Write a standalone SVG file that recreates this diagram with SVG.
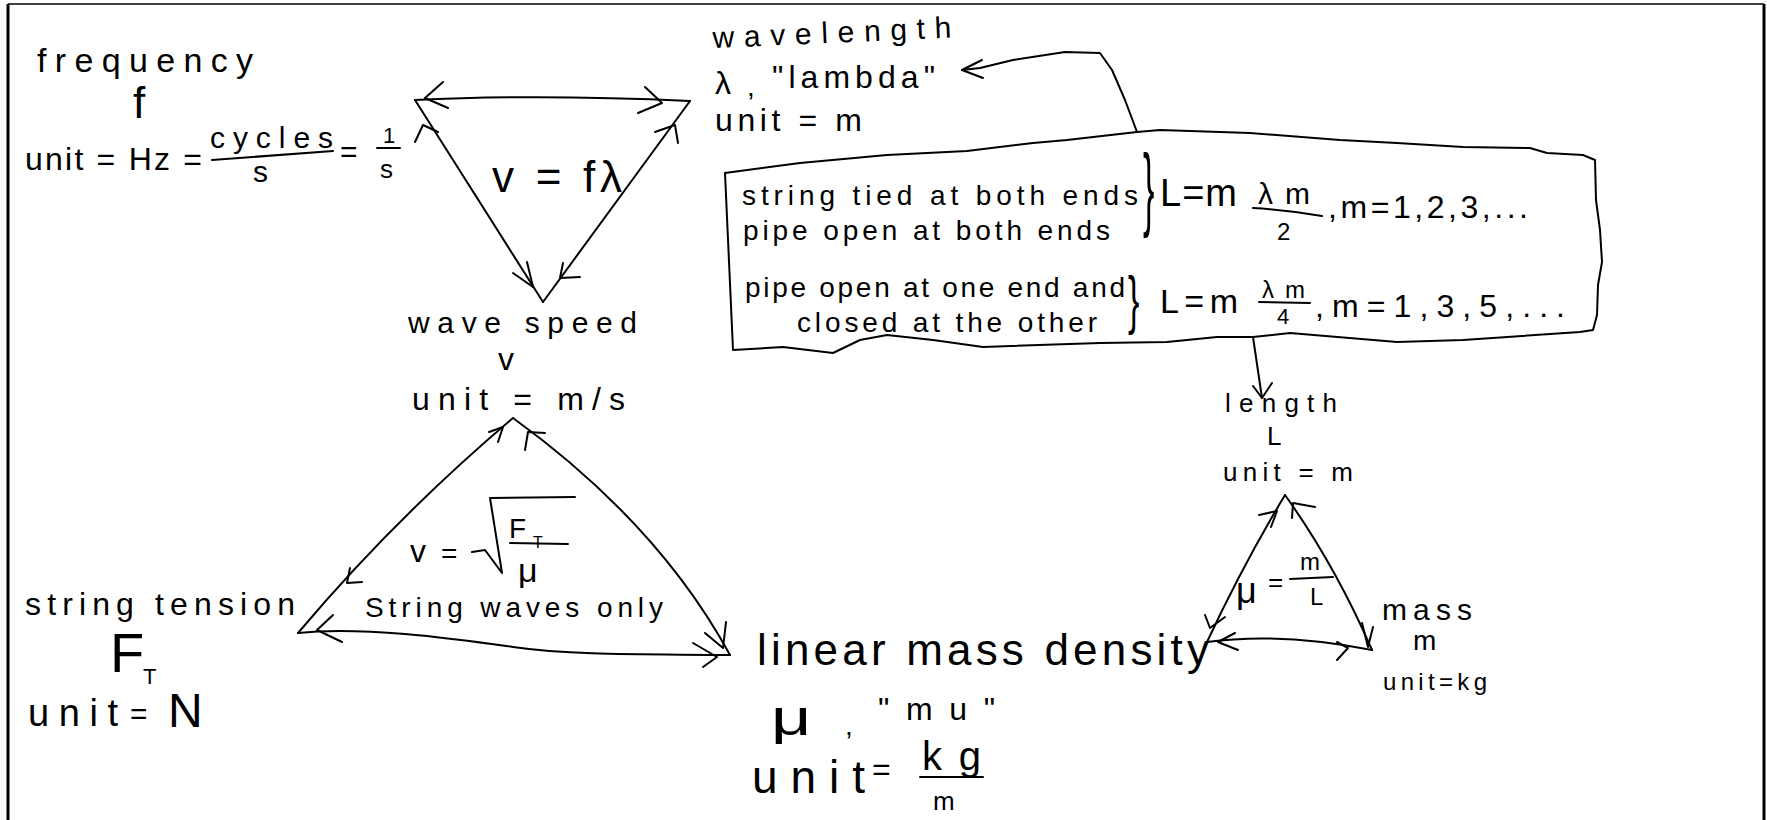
<svg xmlns="http://www.w3.org/2000/svg" width="1767" height="820" viewBox="0 0 1767 820">
<style>
.t{font-family:"Liberation Sans",Arial,sans-serif;fill:#000}
.c{fill:none;stroke:#000;stroke-width:2;stroke-linecap:round;stroke-linejoin:round}
.f{fill:none;stroke:#000;stroke-width:3}
</style>
<rect width="1767" height="820" fill="#fff"/>
<path class="f" d="M8,820 L8,4 M1764,4 L1764,820"/>
<path d="M8,4 L1764,4" stroke="#000" stroke-width="1.5"/>

<g id="connectors">
  <!-- inverted triangle v = f lambda -->
  <path class="c" d="M415,100 Q540,94 690,101"/>
  <path class="c" d="M415,100 L543,302"/>
  <path class="c" d="M690,101 L543,302"/>
  <polyline class="c" points="443,82 425,98 448,108"/>
  <polyline class="c" points="645,87 662,103 638,113"/>
  <polyline class="c" points="415,142 423,125 438,132"/>
  <polyline class="c" points="655,132 675,125 678,143"/>
  <polyline class="c" points="513,273 533,287 527,262"/>
  <polyline class="c" points="563,263 560,278 580,277"/>
  <!-- box to wavelength -->
  <path class="c" d="M1137,132 L1125,100 L1112,70 L1100,53 L1065,52 L1013,60 L980,68 L962,70"/>
  <polyline class="c" points="982,60 962,70 983,78"/>
  <!-- box to length -->
  <path class="c" d="M1253,337 L1262,398"/>
  <polyline class="c" points="1253,386 1262,398 1272,383"/>
  <!-- lower triangle v = sqrt(F/mu) -->
  <path class="c" d="M513,418 Q395,518 298,633"/>
  <path class="c" d="M513,418 Q658,523 730,655"/>
  <path class="c" d="M298,633 C360,626 450,638 513,647 S650,654 730,655"/>
  <polyline class="c" points="489,432 503,427 498,442"/>
  <polyline class="c" points="525,450 528,432 545,433"/>
  <polyline class="c" points="350,568 347,583 362,582"/>
  <polyline class="c" points="333,615 317,630 342,642"/>
  <polyline class="c" points="705,633 723,648 726,622"/>
  <polyline class="c" points="693,643 717,657 703,667"/>
  <!-- small triangle mu = m/L -->
  <path class="c" d="M1285,495 Q1243,565 1207,642"/>
  <path class="c" d="M1285,495 Q1335,565 1372,650"/>
  <path class="c" d="M1207,642 Q1280,632 1372,650"/>
  <polyline class="c" points="1259,515 1277,511 1271,527"/>
  <polyline class="c" points="1292,518 1293,503 1315,507"/>
  <polyline class="c" points="1205,615 1210,628 1225,617"/>
  <polyline class="c" points="1235,633 1218,642 1238,650"/>
  <polyline class="c" points="1337,642 1348,648 1337,660"/>
  <polyline class="c" points="1362,623 1368,647 1373,627"/>
</g>

<g id="frequency">
  <text class="t" x="37" y="72" font-size="34" textLength="216" lengthAdjust="spacing">frequency</text>
  <text class="t" x="133" y="118" font-size="44">f</text>
  <text class="t" x="25" y="170" font-size="32" textLength="177" lengthAdjust="spacing">unit = Hz =</text>
  <text class="t" x="210" y="148" font-size="30" textLength="123" lengthAdjust="spacing">cycles</text>
  <path class="c" d="M212,160 L333,151"/>
  <text class="t" x="253" y="182" font-size="30">s</text>
  <text class="t" x="340" y="162" font-size="30">=</text>
  <text class="t" x="383" y="143" font-size="22">1</text>
  <path class="c" d="M377,148 L400,148"/>
  <text class="t" x="380" y="178" font-size="26">s</text>
</g>

<g id="formula-v-f-lambda">
  <text class="t" x="492" y="192" font-size="44" textLength="130" lengthAdjust="spacing">v = fλ</text>
</g>

<g id="wavelength">
  <text class="t" x="713" y="48" font-size="30" textLength="239" lengthAdjust="spacing" transform="rotate(-2.5 713 48)">wavelength</text>
  <text class="t" x="715" y="94" font-size="32">λ</text>
  <text class="t" x="747" y="96" font-size="28">,</text>
  <text class="t" x="772" y="88" font-size="32" textLength="163" lengthAdjust="spacing">"lambda"</text>
  <text class="t" x="715" y="131" font-size="32" textLength="147" lengthAdjust="spacing">unit = m</text>
</g>

<g id="wave-speed">
  <text class="t" x="408" y="333" font-size="30" textLength="229" lengthAdjust="spacing">wave speed</text>
  <text class="t" x="498" y="370" font-size="32">v</text>
  <text class="t" x="412" y="410" font-size="32" textLength="213" lengthAdjust="spacing">unit = m/s</text>
</g>

<g id="standing-waves">
  <path class="c" d="M725,173 L800,163 L887,155 L967,151 L1033,143 L1067,140 L1137,132 L1160,130 L1250,133 L1340,140 L1397,143 L1463,147 L1530,148 L1547,153 L1583,155 L1595,160 L1596,200 L1600,230 L1602,262 L1598,285 L1597,315 L1593,330 L1580,332 L1463,340 L1397,342 L1290,333 L1253,337 L1217,337 L1167,342 L1100,343 L983,347 L933,340 L887,335 L860,340 L833,353 L783,347 L733,350 Z"/>
  <text class="t" x="742" y="205" font-size="28" textLength="396" lengthAdjust="spacing">string tied at both ends</text>
  <text class="t" x="743" y="240" font-size="28" textLength="367" lengthAdjust="spacing">pipe open at both ends</text>
  <text class="t" x="745" y="297" font-size="28" textLength="380" lengthAdjust="spacing">pipe open at one end and</text>
  <text class="t" x="797" y="332" font-size="28" textLength="300" lengthAdjust="spacing">closed at the other</text>
  <text class="t" font-size="34" transform="translate(1143,219) scale(1,2.7)">}</text>
  <text class="t" font-size="34" transform="translate(1128,322) scale(1,1.9)">}</text>
  <text class="t" x="1160" y="206" font-size="38" textLength="77" lengthAdjust="spacing">L=m</text>
  <text class="t" x="1258" y="204" font-size="30" textLength="52" lengthAdjust="spacing">λm</text>
  <path class="c" d="M1253,208 Q1288,210 1322,216"/>
  <text class="t" x="1277" y="240" font-size="24">2</text>
  <text class="t" x="1328" y="218" font-size="32" textLength="200" lengthAdjust="spacing">,m=1,2,3,...</text>
  <text class="t" x="1160" y="313" font-size="34" textLength="78" lengthAdjust="spacing">L=m</text>
  <text class="t" x="1262" y="298" font-size="24" textLength="43" lengthAdjust="spacing">λm</text>
  <path class="c" d="M1259,302 L1310,303"/>
  <text class="t" x="1277" y="324" font-size="22">4</text>
  <text class="t" x="1315" y="317" font-size="32" textLength="250" lengthAdjust="spacing">,m=1,3,5,...</text>
</g>

<g id="string-tension">
  <text class="t" x="25" y="615" font-size="32" textLength="270" lengthAdjust="spacing">string tension</text>
  <text class="t" x="110" y="672" font-size="56">F</text>
  <text class="t" x="143" y="684" font-size="22">T</text>
  <text class="t" x="28" y="726" font-size="38" textLength="90" lengthAdjust="spacing">unit</text>
  <text class="t" x="130" y="724" font-size="30">=</text>
  <text class="t" x="168" y="727" font-size="48">N</text>
</g>

<g id="formula-v-sqrt">
  <text class="t" x="410" y="562" font-size="32">v</text>
  <text class="t" x="441" y="563" font-size="28">=</text>
  <path class="c" d="M472,552 L485,550 L502,573 L490,498 L575,497"/>
  <text class="t" x="509" y="538" font-size="28">F</text>
  <text class="t" x="533" y="548" font-size="16">T</text>
  <path class="c" d="M510,543 L568,544"/>
  <text class="t" x="518" y="582" font-size="34">μ</text>
  <text class="t" x="365" y="617" font-size="28" textLength="298" lengthAdjust="spacing">String waves only</text>
</g>

<g id="linear-mass-density">
  <text class="t" x="757" y="665" font-size="44" textLength="452" lengthAdjust="spacing">linear mass density</text>
  <text class="t" font-size="50" transform="translate(771,735) scale(1.4,1)">μ</text>
  <text class="t" x="845" y="735" font-size="28">,</text>
  <text class="t" x="878" y="720" font-size="32" textLength="117" lengthAdjust="spacing">"mu"</text>
  <text class="t" x="752" y="793" font-size="46" textLength="113" lengthAdjust="spacing">unit</text>
  <text class="t" x="872" y="780" font-size="32">=</text>
  <text class="t" x="922" y="770" font-size="40" textLength="59" lengthAdjust="spacing">kg</text>
  <path class="c" d="M920,777 L983,777"/>
  <text class="t" x="933" y="810" font-size="26">m</text>
</g>

<g id="length">
  <text class="t" x="1225" y="412" font-size="26" textLength="112" lengthAdjust="spacing">length</text>
  <text class="t" x="1267" y="445" font-size="26">L</text>
  <text class="t" x="1223" y="481" font-size="26" textLength="130" lengthAdjust="spacing">unit = m</text>
</g>

<g id="formula-mu">
  <text class="t" x="1236" y="603" font-size="36">μ</text>
  <text class="t" x="1268" y="591" font-size="26">=</text>
  <path class="c" d="M1290,579 L1333,577"/>
  <text class="t" x="1300" y="570" font-size="24">m</text>
  <text class="t" x="1310" y="605" font-size="24">L</text>
</g>

<g id="mass">
  <text class="t" x="1382" y="620" font-size="30" textLength="90" lengthAdjust="spacing">mass</text>
  <text class="t" x="1413" y="650" font-size="28">m</text>
  <text class="t" x="1383" y="690" font-size="24" textLength="104" lengthAdjust="spacing">unit=kg</text>
</g>
</svg>
